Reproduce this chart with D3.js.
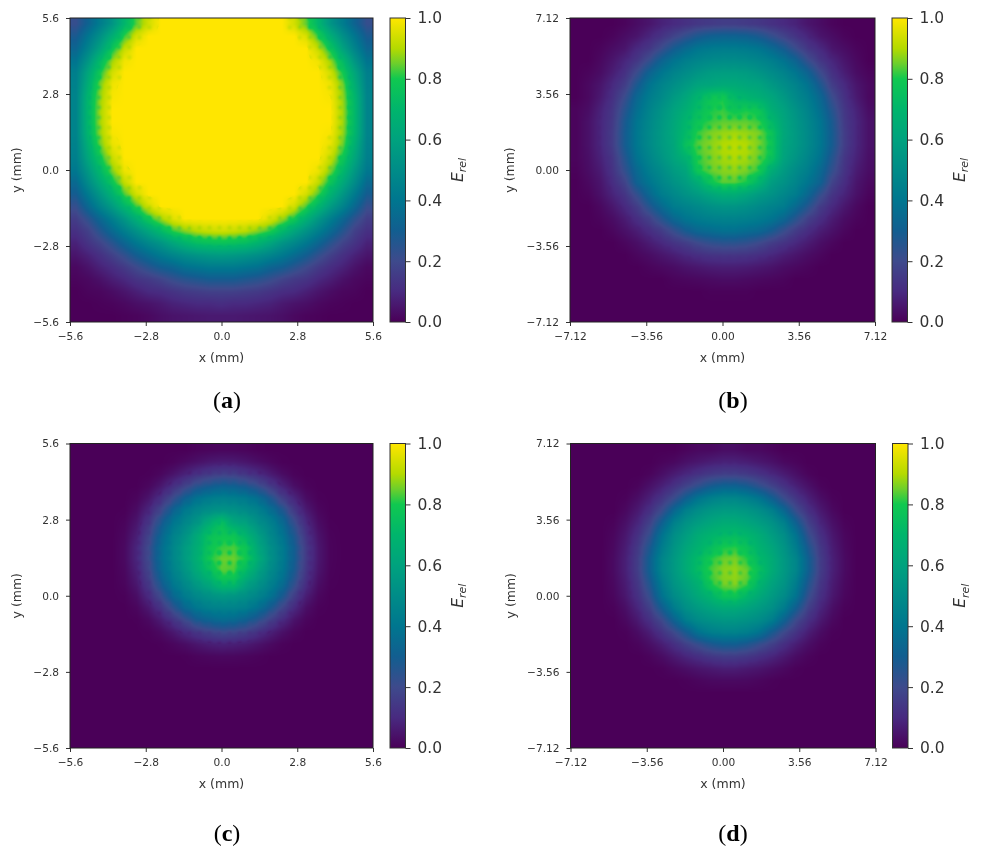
<!DOCTYPE html>
<html><head><meta charset="utf-8">
<script src="https://cdn.jsdelivr.net/npm/d3@7"></script>
<style>html,body{margin:0;padding:0;background:#fff}svg{display:block}</style>
</head><body><div id="c"></div>
<script>
// Relative energy (percent), one row per y step from top to bottom
const gridA = [
[22,32,43,54,70,84,94,100,100,100,100,100,100,100,100,100,100,100,94,84,70,54,43,32,22],
[28,40,52,66,82,95,100,100,100,100,100,100,100,100,100,100,100,100,100,95,82,66,52,40,28],
[33,46,60,78,92,100,100,100,100,100,100,100,100,100,100,100,100,100,100,100,92,78,60,46,33],
[39,54,72,88,98,100,100,100,100,100,100,100,100,100,100,100,100,100,100,100,98,88,72,54,39],
[44,62,80,94,100,100,100,100,100,100,100,100,100,100,100,100,100,100,100,100,100,94,80,62,44],
[45,66,86,98,100,100,100,100,100,100,100,100,100,100,100,100,100,100,100,100,100,98,86,66,45],
[46,70,88,99,100,100,100,100,100,100,100,100,100,100,100,100,100,100,100,100,100,99,88,70,46],
[46,71,89,100,100,100,100,100,100,100,100,100,100,100,100,100,100,100,100,100,100,100,89,71,46],
[46,71,89,100,100,100,100,100,100,100,100,100,100,100,100,100,100,100,100,100,100,100,89,71,46],
[46,70,88,99,100,100,100,100,100,100,100,100,100,100,100,100,100,100,100,100,100,99,88,70,46],
[45,66,85,97,100,100,100,100,100,100,100,100,100,100,100,100,100,100,100,100,100,97,85,66,45],
[44,62,79,93,100,100,100,100,100,100,100,100,100,100,100,100,100,100,100,100,100,93,79,62,44],
[41,56,72,87,98,100,100,100,100,100,100,100,100,100,100,100,100,100,100,100,98,87,72,56,41],
[35,50,64,78,92,100,100,100,100,100,100,100,100,100,100,100,100,100,100,100,92,78,64,50,35],
[29,42,55,68,83,94,100,100,100,100,100,100,100,100,100,100,100,100,100,94,83,68,55,42,29],
[22,34,46,57,70,83,94,100,100,100,100,100,100,100,100,100,100,100,94,83,70,57,46,34,22],
[16,24,34,44,55,67,80,89,96,100,100,100,100,100,100,100,96,89,80,67,55,44,34,24,16],
[12,17,26,35,44,53,62,72,82,87,91,93,94,93,91,87,82,72,62,53,44,35,26,17,12],
[8,13,18,25,33,41,48,54,62,69,74,76,77,76,74,69,62,54,48,41,33,25,18,13,8],
[5,8,12,17,23,30,36,42,47,51,54,56,57,56,54,51,47,42,36,30,23,17,12,8,5],
[2,4.5,8,11,15,20,25,30,33,38,40,42,42,42,40,38,33,30,25,20,15,11,8,4.5,2],
[1,2,4,7,9.5,13,15,18,22,25,27,29,29,29,27,25,22,18,15,13,9.5,7,4,2,1],
[0,1,1.5,3,5,7.5,10,11,13,15,16,17,17,17,16,15,13,11,10,7.5,5,3,1.5,1,0],
[0,0,.5,1,2,3.5,4.5,6,8,9,10,10,11,10,10,9,8,6,4.5,3.5,2,1,.5,0,0],
[0,0,0,0,.5,1,2,3.5,4.5,5,5.5,6,6,6,5.5,5,4.5,3.5,2,1,.5,0,0,0,0]
];
const gridB = [
[0,0,0,0,1,3,5,8,10,12,14,15,16,16,15,14,12,10,8,5,3,1,0,0,0],
[0,0,0,1,3,5,9,13,18,23,28,31,32,32,31,28,23,18,13,9,5,3,1,0,0],
[0,0,1,3,5,10,14,21,29,35,40,42,43,43,42,40,35,29,21,14,10,5,3,1,0],
[0,0,2,5,9,14,22,32,39,44,47,49,50,50,49,47,44,39,32,22,14,9,5,2,0],
[0,1,3,7,12,21,32,40,46,50,54,57,58,58,57,54,50,46,40,32,21,12,7,3,1],
[0,2,5,10,16,28,39,46,51,56,61,62,64,64,62,61,56,51,46,39,28,16,10,5,2],
[0,2,6,12,21,34,43,49,56,62,70,78,80,72,69,66,62,56,49,43,34,21,12,6,2],
[1,3,8,14,25,37,46,53,60,66,74,80,82,78,80,78,66,60,53,46,37,25,14,8,3],
[1,4,9,15,28,40,48,55,62,70,78,82,84,84,84,82,72,62,55,48,40,28,15,9,4],
[1,4,9,16,29,41,49,56,63,72,82,86,88,89,88,86,78,63,56,49,41,29,16,9,4],
[1,4,9,16,29,41,49,56,62,76,84,87,90,91,90,86,79,62,56,49,41,29,16,9,4],
[1,3.5,8,14,26,39,47,54,61,68,82,86,89,90,89,85,78,61,54,47,39,26,14,8,3.5],
[.5,3,6.5,13,23,35,44,50,57,62,80,85,87,88,86,82,66,57,50,44,35,23,13,6.5,3],
[0,2,5,11,18,32,40,47,53,58,66,78,84,84,80,70,58,53,47,40,32,18,11,5,2],
[0,1,4,8.5,13.5,23,34,43,48,53,57,62,66,66,62,57,53,48,43,34,23,13.5,8.5,4,1],
[0,0,2,5.5,10,16,26,35,43,46,49,52,54,54,52,49,46,43,35,26,16,10,5.5,2,0],
[0,0,1,3,6.5,11.5,17,25.5,34,40,43,45,46,46,45,43,40,34,25.5,17,11.5,6.5,3,1,0],
[0,0,0,1.5,4,7,11,15.5,22,29,34,36,38,38,36,34,29,22,15.5,11,7,4,1.5,0,0],
[0,0,0,0,1.5,3.5,6.5,9.5,13,16,20,23,24.5,24.5,23,20,16,13,9.5,6.5,3.5,1.5,0,0,0],
[0,0,0,0,0,1.5,3,5,7,9.5,11.5,13,13.5,13.5,13,11.5,9.5,7,5,3,1.5,0,0,0,0],
[0,0,0,0,0,0,1,2,3,4.5,5.5,6.5,7,7,6.5,5.5,4.5,3,2,1,0,0,0,0,0],
[0,0,0,0,0,0,0,0,1,1.5,2,2.5,3,3,2.5,2,1.5,1,0,0,0,0,0,0,0],
[0,0,0,0,0,0,0,0,0,0,0,.5,.5,.5,.5,0,0,0,0,0,0,0,0,0,0],
[0,0,0,0,0,0,0,0,0,0,0,0,0,0,0,0,0,0,0,0,0,0,0,0,0],
[0,0,0,0,0,0,0,0,0,0,0,0,0,0,0,0,0,0,0,0,0,0,0,0,0]
];
const gridC = [
[0,0,0,0,0,0,0,0,0,0,.7,1,1.3,1.2,.9,.3,0,0,0,0,0,0,0,0,0],
[0,0,0,0,0,0,0,0,.8,2.3,4,5.6,6.4,6.2,5,3.3,1.7,.4,0,0,0,0,0,0,0],
[0,0,0,0,0,0,.2,1.6,4.5,8,12,15,17,16.5,13.5,10.5,6.5,3,.8,0,0,0,0,0,0],
[0,0,0,0,0,.1,1.7,5.5,11.5,18,25,29,32,31,28,22.5,15.5,8.5,3.5,.8,0,0,0,0,0],
[0,0,0,0,0,1.2,5,11.8,21,31,39,43,45,44,42,37,28,17,9,3,.4,0,0,0,0],
[0,0,0,0,.2,3,9.5,19.5,32,42,48,52,54,53,50,46,38,28,15,6.3,1.5,0,0,0,0],
[0,0,0,0,1,5.2,14,28,40,48,55,66,76,63,60,52,46,36,22,10,3,.2,0,0,0],
[0,0,0,0,1.7,7.2,18,33,45,53,64,76,79,78,69,59,49,40,27,13,4.5,.6,0,0,0],
[0,0,0,0,2.2,9,20.5,36,47,57,66,78,82,83,78,63,52,43,30,15,5.5,.8,0,0,0],
[0,0,0,0,2.2,9,20.5,36,47,57,67,80,85,85,80,66,53,43,30,15,5.5,.8,0,0,0],
[0,0,0,0,1.7,7.5,18.5,34,45,54,64,74,84,83,72,60,50,41,28,13.5,4.8,.6,0,0,0],
[0,0,0,0,1.2,5.7,15,29,41,49,57,64,74,74,61,54,46,37,23.5,11,3.3,.3,0,0,0],
[0,0,0,0,.4,3.3,10.5,21,34,43,49,53,56,55,52,47,40,29,16.5,7,1.7,0,0,0,0],
[0,0,0,0,0,1.4,5.7,13,23.5,34,41,45,46,46,44,38,29,19,10,3.4,.5,0,0,0,0],
[0,0,0,0,0,.2,2.2,6.5,13,20.5,29,33,36,35,31,25,17.5,10.5,4.5,1.2,0,0,0,0,0],
[0,0,0,0,0,0,.4,2.2,5.5,10,14,17.5,20,19,16.5,12.5,8,4,1.3,0,0,0,0,0,0],
[0,0,0,0,0,0,0,.2,1.4,3,5.2,7,8,7.5,6.4,4.5,2.4,.7,0,0,0,0,0,0,0],
[0,0,0,0,0,0,0,0,0,.2,1,1.5,1.8,1.7,1.3,.7,.1,0,0,0,0,0,0,0,0],
[0,0,0,0,0,0,0,0,0,0,0,0,0,0,0,0,0,0,0,0,0,0,0,0,0],
[0,0,0,0,0,0,0,0,0,0,0,0,0,0,0,0,0,0,0,0,0,0,0,0,0],
[0,0,0,0,0,0,0,0,0,0,0,0,0,0,0,0,0,0,0,0,0,0,0,0,0],
[0,0,0,0,0,0,0,0,0,0,0,0,0,0,0,0,0,0,0,0,0,0,0,0,0],
[0,0,0,0,0,0,0,0,0,0,0,0,0,0,0,0,0,0,0,0,0,0,0,0,0],
[0,0,0,0,0,0,0,0,0,0,0,0,0,0,0,0,0,0,0,0,0,0,0,0,0],
[0,0,0,0,0,0,0,0,0,0,0,0,0,0,0,0,0,0,0,0,0,0,0,0,0]
];
const gridD = [
[0,0,0,0,0,0,0,0,0,1,2,2,3,3,2,2,1,0,0,0,0,0,0,0,0],
[0,0,0,0,0,0,0,1,2,4,5.5,7,8,8,7,5.5,4,2,1,0,0,0,0,0,0],
[0,0,0,0,0,0,1,3.5,6.5,9.5,12.5,15,16.5,16.5,15,12.5,9.5,6.5,3.5,1,0,0,0,0,0],
[0,0,0,0,0,1,4,7.7,12.5,18,23.5,29,32,32,29,23.5,18,12.5,7.7,4,1,0,0,0,0],
[0,0,0,0,.7,3.3,7.7,13.5,21,31,40,45,48,48,45,40,31,21,13.5,7.7,3.3,.7,0,0,0],
[0,0,0,0,2,6,12,21,34,45,51,55,57,57,55,51,45,34,21,12,6,2,0,0,0],
[0,0,0,.7,3.8,9,17.5,31,45,53,58,62,65,65,62,58,53,45,31,17.5,9,3.8,.7,0,0],
[0,0,0,1.5,5.5,12,22.5,39,51,58,65,69,72,73,70,65,58,51,39,22.5,12,5.5,1.5,0,0],
[0,0,0,2,6.7,14.5,27.5,43,54,62,68,74,80,81,76,68,62,54,43,27.5,14.5,6.7,2,0,0],
[0,0,0,2.5,7.5,16,31,47,56,65,73,81,85,86,81,72,65,56,47,31,16,7.5,2.5,0,0],
[0,0,0,2.5,7.5,16,31,47,56,65,74,83,87,88,85,76,65,56,47,31,16,7.5,2.5,0,0],
[0,0,0,2,6.5,14,27,43,54,61,68,81,86,87,83,70,61,54,43,27,14,6.5,2,0,0],
[0,0,0,1.5,5.5,12,22.5,39,50,57,64,70,78,79,71,64,57,50,39,22.5,12,5.5,1.5,0,0],
[0,0,0,.6,3.5,9,17,30,43,52,57,61,64,64,61,57,52,43,30,17,9,3.5,.6,0,0],
[0,0,0,0,2,6,12,20,32,44,50,53,55,55,53,50,44,32,20,12,6,2,0,0,0],
[0,0,0,0,.5,3,7,13,20,29,39,44,46,46,44,39,29,20,13,7,3,.5,0,0,0],
[0,0,0,0,0,1,3.5,7,11.5,17,22,27,30,30,27,22,17,11.5,7,3.5,1,0,0,0,0],
[0,0,0,0,0,0,1,3,6,9,11.5,14,15.5,15.5,14,11.5,9,6,3,1,0,0,0,0,0],
[0,0,0,0,0,0,0,.5,2,3.5,5,6,7,7,6,5,3.5,2,.5,0,0,0,0,0,0],
[0,0,0,0,0,0,0,0,0,.5,1.3,2,2.2,2.2,2,1.3,.5,0,0,0,0,0,0,0,0],
[0,0,0,0,0,0,0,0,0,0,0,0,0,0,0,0,0,0,0,0,0,0,0,0,0],
[0,0,0,0,0,0,0,0,0,0,0,0,0,0,0,0,0,0,0,0,0,0,0,0,0],
[0,0,0,0,0,0,0,0,0,0,0,0,0,0,0,0,0,0,0,0,0,0,0,0,0],
[0,0,0,0,0,0,0,0,0,0,0,0,0,0,0,0,0,0,0,0,0,0,0,0,0],
[0,0,0,0,0,0,0,0,0,0,0,0,0,0,0,0,0,0,0,0,0,0,0,0,0]
];
const ticksSmall = [-5.6,-2.8,0,2.8,5.6];
const labelsSmall = ["−5.6","−2.8","0.0","2.8","5.6"];
const ticksLarge = [-7.12,-3.56,0,3.56,7.12];
const labelsLarge = ["−7.12","−3.56","0.00","3.56","7.12"];
const barTicks = [0,.2,.4,.6,.8,1];
const barLabels = ["0.0","0.2","0.4","0.6","0.8","1.0"];
const colourStops = [0,.1,.2,.3,.4,.5,.6,.7,.8,.85,.9,1];
const colourValues = ["#4a0058","#482a80","#3e4a8c","#125e90","#00768f","#008c88","#00a27e","#00b56c","#10c850","#6ccf2c","#b4da00","#ffe600"];

const W=981,H=854;
const colour = d3.scaleLinear().domain(colourStops).range(colourValues).clamp(true);
const svg = d3.select("#c").append("svg").attr("width",W).attr("height",H);
const defs = svg.append("defs");
defs.append("filter").attr("id","soft").attr("x","-5%").attr("y","-5%").attr("width","110%").attr("height","110%")
  .append("feGaussianBlur").attr("stdDeviation",0.4);

const panels = [
 {name:"a",grid:gridA,left:70,right:373,top:18,bottom:322,ticks:ticksSmall,labels:labelsSmall,capX:227,capY:408,yLabelGap:53,dotLow:0,dotHigh:.035},
 {name:"b",grid:gridB,left:570,right:875,top:18,bottom:322,ticks:ticksLarge,labels:labelsLarge,capX:733,capY:408,yLabelGap:60,dotLow:.006,dotHigh:.04},
 {name:"c",grid:gridC,left:70,right:373,top:443.5,bottom:748,ticks:ticksSmall,labels:labelsSmall,capX:227,capY:841,yLabelGap:53,dotLow:.018,dotHigh:.05},
 {name:"d",grid:gridD,left:570.5,right:875.5,top:443.5,bottom:748,ticks:ticksLarge,labels:labelsLarge,capX:733,capY:841,yLabelGap:60,dotLow:.006,dotHigh:.04}
];
const dotPitch=10, dotRadius=1.7;

function heatImage(p,w,h){
  const grid=p.grid, nc=grid[0].length, nr=grid.length;
  const cv=document.createElement("canvas"); cv.width=w*2; cv.height=h*2;
  const ctx=cv.getContext("2d"), img=ctx.createImageData(cv.width,cv.height);
  const toCol=d3.scaleLinear().domain([0,cv.width]).range([-.5,nc-.5]);
  const toRow=d3.scaleLinear().domain([0,cv.height]).range([-.5,nr-.5]);
  for(let py=0;py<cv.height;py++){
    const r=Math.max(0,Math.min(nr-1,toRow(py+.5))), r0=Math.floor(r), r1=Math.min(nr-1,r0+1), fr=r-r0;
    for(let px=0;px<cv.width;px++){
      const c=Math.max(0,Math.min(nc-1,toCol(px+.5))), c0=Math.floor(c), c1=Math.min(nc-1,c0+1), fc=c-c0;
      let v=(grid[r0][c0]*(1-fc)*(1-fr)+grid[r0][c1]*fc*(1-fr)+grid[r1][c0]*(1-fc)*fr+grid[r1][c1]*fc*fr)/100;
      // sampling-lattice texture of the source image
      const ax=px/2+.7, ay=py/2+.7;
      const dx=ax-Math.round(ax/dotPitch)*dotPitch, dy=ay-Math.round(ay/dotPitch)*dotPitch;
      const t=Math.exp(-(dx*dx+dy*dy)/(2*dotRadius*dotRadius));
      const depth=v>=.99?0:v>.7?p.dotHigh:v>.08?p.dotLow:0;
      v-=depth*t;
      const col=d3.rgb(colour(v)), o=(py*cv.width+px)*4;
      img.data[o]=col.r;img.data[o+1]=col.g;img.data[o+2]=col.b;img.data[o+3]=255;
    }
  }
  ctx.putImageData(img,0,0);
  return cv.toDataURL();
}

panels.forEach(p=>{
  const g=svg.append("g").attr("class","panel-"+p.name);
  const x=d3.scaleLinear().domain([p.ticks[0],p.ticks[4]]).range([p.left,p.right]);
  const y=d3.scaleLinear().domain([p.ticks[0],p.ticks[4]]).range([p.bottom,p.top]);
  const w=p.right-p.left,h=p.bottom-p.top;
  g.append("image").attr("x",p.left).attr("y",p.top).attr("width",w).attr("height",h)
    .attr("preserveAspectRatio","none")
    .attr("href",heatImage(p,Math.round(w),Math.round(h)));

  const ink=g.append("g").attr("filter","url(#soft)");
  const xAxis=d3.axisBottom(x).tickValues(p.ticks).tickFormat((d,i)=>p.labels[i]).tickSize(4).tickPadding(6);
  const yAxis=d3.axisLeft(y).tickValues(p.ticks).tickFormat((d,i)=>p.labels[i]).tickSize(4).tickPadding(7);
  const ax=ink.append("g").attr("transform",`translate(0,${p.bottom})`).call(xAxis);
  const ay=ink.append("g").attr("transform",`translate(${p.left},0)`).call(yAxis);
  [ax,ay].forEach(a=>{
    a.select(".domain").remove();
    a.selectAll("line").attr("stroke","#333").attr("stroke-width",1);
    a.selectAll("text").attr("font-family","DejaVu Sans").attr("font-size",10.6).attr("fill","#333");
  });
  ink.append("rect").attr("x",p.left).attr("y",p.top).attr("width",w).attr("height",h)
    .attr("fill","none").attr("stroke","#222").attr("stroke-width",1);
  ink.append("text").attr("x",(p.left+p.right)/2).attr("y",p.bottom+40).attr("text-anchor","middle")
    .attr("font-family","DejaVu Sans").attr("font-size",12.5).attr("fill","#333").text("x (mm)");
  ink.append("text").attr("transform",`translate(${p.left-p.yLabelGap+4},${(p.top+p.bottom)/2}) rotate(-90)`)
    .attr("text-anchor","middle").attr("font-family","DejaVu Sans").attr("font-size",12.5).attr("fill","#333").text("y (mm)");

  // colour bar
  const bx=p.right+17, bw=15.5;
  const by=d3.scaleLinear().domain([0,1]).range([p.bottom,p.top]);
  const id="bar"+p.name;
  const lg=defs.append("linearGradient").attr("id",id).attr("x1",0).attr("x2",0).attr("y1",1).attr("y2",0);
  colourStops.forEach((s,i)=>lg.append("stop").attr("offset",s).attr("stop-color",colourValues[i]));
  g.append("rect").attr("x",bx).attr("y",p.top).attr("width",bw).attr("height",h).attr("fill",`url(#${id})`);
  const barInk=g.append("g").attr("filter","url(#soft)");
  barInk.append("rect").attr("x",bx).attr("y",p.top).attr("width",bw).attr("height",h)
    .attr("fill","none").attr("stroke","#333").attr("stroke-width",1);
  const barAxis=d3.axisRight(by).tickValues(barTicks).tickFormat((d,i)=>barLabels[i]).tickSize(5).tickPadding(7);
  const ab=barInk.append("g").attr("transform",`translate(${bx+bw},0)`).call(barAxis);
  ab.select(".domain").remove();
  ab.selectAll("line").attr("stroke","#333").attr("stroke-width",1);
  ab.selectAll("text").attr("font-family","DejaVu Sans").attr("font-size",15.5).attr("fill","#333");
  const lab=barInk.append("text").attr("transform",`translate(${bx+bw+57},${(p.top+p.bottom)/2}) rotate(-90)`)
    .attr("text-anchor","middle").attr("font-family","DejaVu Sans").attr("fill","#333");
  lab.append("tspan").attr("font-size",15.5).attr("font-style","italic").text("E");
  lab.append("tspan").attr("font-size",11).attr("font-style","italic").attr("dy",3.5).text("rel");

  // caption
  const cap=g.append("text").attr("x",p.capX).attr("y",p.capY).attr("text-anchor","middle")
    .attr("font-family","Liberation Serif").attr("font-size",24).attr("fill","#000");
  cap.append("tspan").text("(");
  cap.append("tspan").attr("font-weight","bold").text(p.name);
  cap.append("tspan").text(")");
});
</script></body></html>
